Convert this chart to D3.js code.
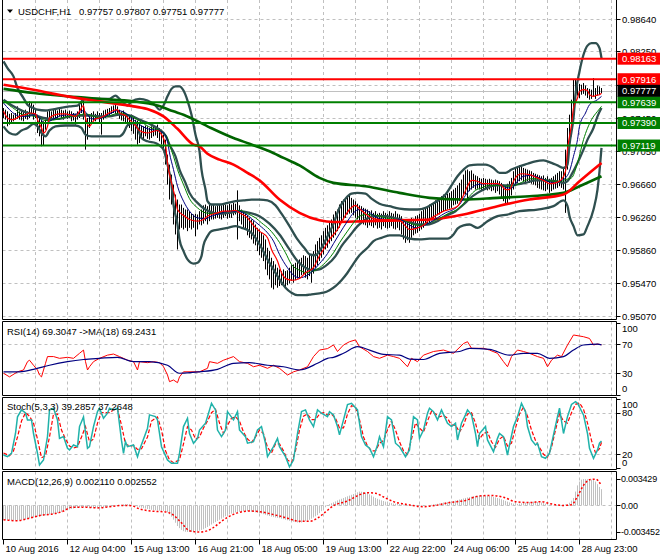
<!DOCTYPE html>
<html><head><meta charset="utf-8">
<script src="https://cdn.jsdelivr.net/npm/d3@7"></script>
<style>
html,body{margin:0;padding:0;background:#fff;}
svg{display:block;}
text{font-family:"Liberation Sans",Arial,sans-serif;font-size:9.5px;fill:#000;}
</style></head><body>
<svg id="c" width="660" height="560"></svg>
<script>
// ---------------- DATA ----------------
const symbol = "USDCHF,H1";
const ohlcLast = ["0.97757","0.97807","0.97751","0.97777"];
const priceTicks = ["0.98640","0.98250","0.97850","0.97450","0.97050","0.96660","0.96260","0.95860","0.95470","0.95070"];
const timeLabels = ["10 Aug 2016","12 Aug 04:00","15 Aug 13:00","16 Aug 21:00","18 Aug 05:00","19 Aug 13:00","22 Aug 22:00","24 Aug 06:00","25 Aug 14:00","28 Aug 23:00"];
const resistance = [0.98163, 0.97916];
const support = [0.97639, 0.97390, 0.97119];
const lastPrice = 0.97777;

// hourly bars, prices in 1e-4
const highs = [
9757,9755,9753,9750,9751,9749,9751,9759,9753,9755,
9754,9755,9753,9765,9763,9761,9757,9749,9745,9743,
9741,9743,9753,9755,9753,9756,9755,9754,9757,9755,
9754,9755,9753,9754,9753,9751,9750,9753,9761,9767,
9766,9747,9745,9749,9751,9753,9750,9753,9751,9751,
9754,9755,9756,9757,9759,9760,9761,9759,9755,9753,
9754,9751,9750,9748,9749,9745,9743,9742,9738,9736,
9735,9736,9735,9733,9735,9736,9735,9737,9733,9731,
9725,9719,9701,9689,9677,9665,9653,9647,9641,9641,
9637,9635,9635,9633,9630,9629,9630,9629,9633,9635,
9640,9641,9639,9641,9640,9641,9639,9640,9641,9640,
9642,9641,9640,9642,9641,9643,9642,9658,9640,9635,
9633,9630,9628,9625,9623,9621,9617,9613,9611,9607,
9604,9599,9589,9585,9577,9573,9569,9565,9563,9561,
9563,9561,9562,9565,9568,9569,9571,9573,9575,9577,
9580,9579,9577,9581,9580,9585,9593,9597,9601,9604,
9609,9613,9616,9621,9623,9629,9633,9635,9641,9645,
9647,9649,9651,9652,9649,9647,9645,9642,9640,9639,
9637,9636,9635,9633,9634,9631,9633,9630,9631,9630,
9633,9631,9630,9633,9631,9630,9633,9630,9629,9627,
9623,9622,9621,9623,9625,9624,9627,9628,9630,9633,
9635,9637,9639,9641,9642,9643,9646,9647,9649,9651,
9653,9652,9654,9655,9657,9659,9661,9664,9667,9671,
9677,9682,9683,9681,9682,9678,9676,9675,9673,9672,
9673,9672,9671,9672,9671,9670,9671,9670,9669,9667,
9665,9664,9666,9669,9673,9681,9685,9687,9688,9687,
9685,9684,9683,9682,9681,9679,9678,9677,9676,9675,
9676,9673,9675,9672,9673,9675,9677,9679,9681,9681,
9685,9707,9733,9749,9767,9791,9792,9789,9786,9785,
9787,9784,9781,9780,9779,9793,9781,9784,9783,9781];
const lows = [
9745,9743,9735,9737,9739,9741,9743,9744,9743,9742,
9741,9744,9743,9745,9749,9743,9745,9727,9723,9711,
9712,9731,9741,9743,9744,9745,9744,9745,9747,9745,
9743,9745,9744,9745,9741,9742,9737,9743,9745,9751,
9743,9707,9719,9733,9739,9742,9741,9744,9738,9725,
9743,9745,9747,9748,9750,9751,9750,9748,9744,9742,
9741,9739,9736,9733,9729,9726,9719,9713,9715,9721,
9719,9723,9720,9719,9721,9723,9724,9721,9717,9713,
9707,9689,9665,9647,9641,9617,9605,9587,9611,9613,
9611,9613,9609,9613,9611,9613,9603,9611,9617,9616,
9618,9621,9617,9621,9623,9623,9624,9625,9624,9623,
9625,9627,9624,9625,9625,9628,9629,9599,9621,9617,
9613,9611,9604,9601,9599,9594,9592,9585,9580,9577,
9573,9563,9556,9551,9541,9539,9544,9541,9543,9544,
9545,9540,9544,9546,9549,9547,9550,9552,9553,9556,
9557,9553,9551,9555,9547,9558,9565,9568,9573,9577,
9581,9587,9589,9594,9597,9601,9604,9609,9613,9621,
9623,9625,9629,9630,9631,9628,9625,9623,9621,9618,
9617,9616,9613,9616,9615,9613,9616,9612,9613,9611,
9615,9613,9612,9613,9615,9612,9611,9613,9610,9605,
9599,9595,9598,9595,9601,9604,9606,9607,9609,9611,
9613,9616,9618,9619,9622,9623,9625,9628,9629,9631,
9633,9634,9635,9636,9637,9640,9641,9642,9645,9647,
9652,9653,9647,9657,9659,9661,9659,9660,9659,9658,
9657,9659,9658,9659,9657,9658,9655,9657,9653,9649,
9645,9641,9642,9647,9652,9659,9664,9667,9669,9670,
9669,9667,9669,9667,9666,9665,9664,9661,9660,9659,
9658,9657,9659,9655,9657,9659,9660,9661,9663,9661,
9659,9631,9683,9709,9723,9749,9765,9772,9769,9773,
9774,9772,9769,9767,9768,9771,9768,9772,9773,9775];

// indicator lines: [bar, price*1e4]
const ma100 = [[0,9785],[15,9779],[32,9771],[48,9765],[65,9759],[73,9755],[80,9747],[87,9732],[95,9713],[98,9711],[102,9702],[108,9695],[115,9689],[122,9679],[128,9670],[138,9647],[148,9631],[158,9622],[165,9620],[181,9621],[198,9622],[213,9623],[230,9629],[247,9639],[263,9647],[280,9653],[288,9669],[299,9691]];
const ma200 = [[0,9780],[15,9775],[32,9771],[48,9768],[65,9765],[77,9760],[85,9753],[90,9749],[102,9735],[115,9721],[123,9714],[133,9705],[140,9697],[148,9688],[158,9673],[165,9667],[181,9663],[198,9655],[213,9649],[230,9647],[247,9649],[263,9651],[280,9655],[288,9663],[299,9675]];
const bbUpper = [[0,9813],[2,9805],[5,9795],[7,9781],[10,9769],[12,9761],[15,9757],[17,9755],[21,9754],[24,9755],[28,9757],[33,9759],[37,9760],[40,9767],[43,9768],[48,9768],[53,9768],[56,9772],[58,9768],[62,9760],[64,9765],[68,9768],[72,9766],[76,9760],[78,9755],[80,9760],[82,9771],[84,9780],[86,9783],[88,9783],[90,9778],[92,9766],[94,9749],[96,9725],[98,9705],[99,9683],[101,9659],[102,9645],[104,9641],[108,9641],[112,9643],[116,9645],[120,9646],[124,9647],[128,9647],[132,9646],[136,9640],[139,9630],[143,9615],[147,9599],[151,9587],[153,9581],[156,9580],[158,9585],[161,9598],[165,9618],[168,9637],[171,9648],[174,9654],[177,9655],[181,9654],[184,9648],[188,9642],[193,9639],[198,9636],[203,9635],[207,9635],[211,9637],[214,9641],[218,9647],[221,9653],[224,9664],[227,9675],[230,9683],[233,9688],[237,9689],[241,9689],[245,9685],[248,9679],[251,9679],[254,9683],[258,9687],[262,9690],[266,9693],[270,9694],[274,9691],[277,9688],[280,9685],[282,9689],[283,9713],[285,9745],[286,9773],[288,9801],[290,9821],[292,9832],[294,9835],[296,9835],[298,9829],[299,9817]];
const bbMiddle = [[0,9767],[5,9759],[10,9753],[15,9749],[20,9745],[23,9744],[28,9744],[33,9747],[38,9748],[43,9748],[48,9747],[53,9747],[58,9749],[63,9748],[68,9743],[73,9738],[78,9731],[81,9724],[83,9713],[86,9699],[88,9683],[91,9667],[93,9655],[97,9643],[101,9635],[105,9631],[108,9630],[113,9631],[118,9633],[123,9631],[128,9627],[133,9618],[138,9605],[143,9587],[147,9573],[151,9565],[154,9562],[158,9563],[162,9569],[166,9579],[169,9591],[173,9603],[177,9615],[181,9623],[185,9627],[191,9627],[197,9624],[202,9621],[207,9617],[212,9617],[217,9621],[221,9627],[226,9633],[230,9641],[233,9648],[237,9655],[241,9660],[246,9664],[251,9664],[256,9665],[261,9667],[266,9670],[271,9670],[276,9669],[280,9667],[282,9669],[284,9677],[287,9691],[290,9707],[292,9719],[295,9733],[297,9747],[299,9757]];
const bbLower = [[0,9735],[3,9727],[6,9725],[9,9730],[12,9733],[15,9738],[17,9735],[19,9727],[21,9723],[23,9730],[26,9735],[31,9736],[36,9736],[39,9733],[41,9725],[44,9723],[48,9723],[53,9723],[58,9723],[60,9727],[62,9736],[65,9739],[67,9733],[69,9721],[72,9717],[76,9715],[78,9712],[80,9707],[82,9689],[84,9665],[85,9641],[87,9617],[88,9599],[90,9585],[92,9575],[95,9570],[97,9571],[99,9579],[100,9592],[102,9603],[104,9609],[108,9611],[112,9613],[116,9615],[119,9613],[123,9609],[126,9601],[129,9589],[132,9575],[135,9563],[138,9551],[141,9541],[144,9535],[147,9532],[151,9532],[154,9533],[157,9534],[160,9535],[163,9538],[166,9543],[169,9550],[172,9559],[175,9570],[178,9580],[182,9589],[185,9597],[189,9601],[193,9604],[198,9604],[203,9600],[208,9599],[213,9600],[218,9600],[222,9600],[225,9605],[227,9612],[230,9616],[233,9617],[237,9613],[242,9621],[247,9627],[252,9629],[258,9633],[267,9635],[275,9639],[280,9646],[282,9639],[283,9627],[285,9615],[287,9604],[290,9605],[292,9615],[295,9635],[297,9659],[298,9681],[299,9709]];
const maFast = [[0,9753],[2,9745],[4,9743],[6,9744],[8,9747],[11,9749],[13,9751],[16,9750],[17,9743],[19,9733],[20,9727],[22,9735],[23,9745],[26,9749],[28,9750],[31,9750],[33,9749],[36,9747],[38,9753],[40,9760],[41,9745],[43,9735],[44,9738],[46,9744],[48,9745],[50,9747],[52,9750],[55,9754],[57,9755],[58,9751],[61,9748],[63,9743],[66,9736],[68,9730],[72,9727],[75,9729],[77,9730],[79,9725],[81,9713],[82,9691],[84,9667],[86,9648],[87,9635],[90,9628],[93,9623],[97,9621],[100,9623],[102,9627],[104,9629],[107,9631],[110,9633],[113,9633],[116,9634],[118,9631],[122,9625],[125,9616],[128,9609],[132,9601],[134,9587],[137,9573],[139,9559],[142,9551],[145,9550],[148,9552],[151,9559],[155,9565],[157,9575],[160,9587],[163,9599],[167,9611],[170,9624],[173,9635],[176,9640],[178,9636],[182,9628],[185,9624],[188,9623],[192,9623],[195,9623],[198,9622],[201,9615],[203,9611],[206,9612],[210,9616],[213,9623],[217,9629],[220,9633],[223,9635],[227,9639],[229,9647],[232,9663],[234,9670],[237,9669],[240,9666],[243,9666],[247,9666],[249,9664],[251,9659],[253,9659],[255,9669],[257,9676],[259,9678],[263,9677],[267,9673],[270,9670],[273,9666],[276,9667],[279,9671],[281,9681],[282,9707],[284,9737],[285,9757],[287,9769],[288,9777],[290,9779],[292,9778],[293,9773],[295,9771],[296,9772],[298,9773],[299,9775]];
const maMid = [[0,9763],[3,9755],[6,9749],[8,9747],[12,9747],[16,9749],[18,9745],[21,9738],[23,9741],[26,9745],[29,9748],[33,9749],[37,9750],[40,9754],[42,9749],[44,9744],[47,9744],[51,9747],[54,9751],[57,9754],[61,9751],[64,9745],[67,9739],[71,9733],[74,9731],[77,9730],[80,9727],[82,9717],[83,9703],[85,9683],[87,9663],[90,9645],[93,9633],[97,9625],[101,9624],[104,9627],[108,9630],[113,9633],[117,9633],[121,9630],[124,9624],[128,9616],[132,9607],[135,9597],[138,9581],[142,9565],[145,9556],[148,9553],[152,9556],[155,9562],[158,9570],[162,9582],[165,9594],[168,9606],[172,9621],[175,9631],[178,9635],[182,9633],[185,9628],[188,9624],[193,9623],[198,9623],[202,9618],[206,9613],[209,9615],[213,9619],[217,9625],[221,9631],[225,9635],[228,9641],[231,9652],[234,9661],[237,9665],[241,9666],[245,9666],[248,9665],[252,9661],[254,9661],[257,9669],[260,9675],[264,9676],[268,9673],[272,9669],[276,9667],[279,9670],[281,9673],[283,9681],[285,9699],[287,9719],[288,9735],[291,9751],[293,9761],[297,9767],[299,9771]];
const maSlow = [[0,9766],[3,9760],[6,9755],[8,9751],[12,9748],[16,9747],[18,9745],[21,9742],[23,9742],[26,9743],[29,9745],[33,9747],[37,9748],[41,9750],[44,9748],[48,9745],[52,9747],[56,9750],[59,9751],[63,9748],[67,9743],[71,9737],[74,9733],[77,9731],[80,9727],[82,9721],[83,9713],[85,9699],[87,9683],[90,9665],[93,9648],[97,9637],[101,9631],[105,9630],[108,9631],[113,9633],[118,9634],[122,9630],[126,9625],[129,9619],[133,9611],[137,9599],[141,9583],[144,9569],[148,9562],[152,9559],[155,9561],[158,9565],[162,9574],[165,9583],[168,9595],[172,9609],[175,9619],[178,9627],[182,9629],[186,9628],[191,9625],[196,9623],[201,9621],[205,9617],[208,9616],[212,9618],[216,9622],[220,9627],[223,9631],[227,9635],[230,9642],[233,9651],[236,9658],[239,9661],[243,9664],[247,9664],[251,9663],[254,9663],[257,9665],[261,9670],[264,9672],[268,9672],[272,9670],[276,9669],[279,9669],[281,9671],[284,9673],[287,9691],[290,9719],[294,9743],[297,9753],[299,9759]];

// RSI(14) and its MA(18): [bar, value]
const rsiTitle = ["69.3047","69.2431"];
const rsi = [[0,30],[3,25],[7,32],[10,34.5],[12,46],[13,48],[15,41],[17,34.5],[18,27.6],[19,25],[21,43.7],[22,53],[25,53],[28,50.6],[32,52],[35,50.6],[38,57.5],[40,62],[41,46],[42,34.5],[43,39],[45,46],[48,50.6],[52,55],[55,56.5],[58,53],[62,48],[65,46],[67,34.5],[68,46],[72,44.6],[75,46],[78,44.6],[80,39],[82,27.6],[83,18.4],[85,20.7],[87,17],[88,25],[90,32],[98,32],[102,36.8],[103,46],[107,43.7],[110,48],[115,53],[118,46],[122,43.7],[125,39],[128,41],[132,36.8],[135,41],[138,36.8],[142,27.6],[145,32],[148,34.5],[152,39],[155,53],[158,62],[162,64],[165,69],[167,60],[170,69],[173,73.5],[176,76],[178,66.6],[182,60],[185,53],[188,50.6],[192,55],[195,53],[198,50.6],[202,39],[204,50.6],[207,46],[210,55],[215,60],[220,62],[225,57.5],[230,71],[232,73.5],[234,64.4],[240,64.4],[243,62],[247,57.5],[250,46],[252,39],[254,53],[257,62],[260,60],[263,57.5],[267,53],[270,50.6],[272,39],[274,48],[277,55],[279,53],[282,69],[285,82.8],[290,80.4],[293,78],[295,69],[297,70.3],[299,69.3]];
const rsiMa = [[0,32],[8,32],[15,35.4],[23,41],[32,46],[40,49],[48,50.6],[57,52],[65,46],[73,46],[82,41],[88,30],[98,32],[107,35.4],[115,43.7],[123,44.6],[132,41],[140,39],[148,34.5],[157,43.7],[162,50.6],[165,52],[170,57.5],[177,66.6],[183,62],[190,56],[198,55],[203,49.6],[210,49],[218,57.5],[228,60],[233,64.4],[243,63],[253,55],[260,57.5],[267,57.5],[273,50.6],[280,53],[285,62],[290,69],[297,70.3],[299,69.2]];
const rsiTicks = [100,70,30,0];

// Stochastic(5,3,3): [bar, value]
const stochTitle = ["39.2857","37.2648"];
const stochMain = [[0,19],[2,16.6],[4,21.5],[6,50],[7,74],[9,84],[11,79.5],[12,69.6],[14,69.6],[15,50],[17,21.5],[18,4.6],[20,11.8],[22,45.5],[23,84],[25,86.4],[27,69.6],[28,43],[30,45.5],[32,28.7],[33,26.3],[35,33.5],[37,31],[38,60],[40,74],[42,28.7],[43,31],[45,60],[47,81.5],[48,86.4],[50,72],[52,79.2],[53,86.4],[55,84],[57,86.4],[59,40],[60,21.5],[61,38.2],[62,31],[65,33.5],[67,16.6],[68,26.3],[72,57.6],[73,76.8],[76,74.3],[77,69.6],[79,31],[82,11.8],[84,7],[87,7],[88,21.5],[90,60],[92,72],[93,50],[95,36],[97,43],[98,55],[101,64.8],[102,74.3],[104,93.6],[106,84],[107,55],[109,45.5],[111,55],[112,81.5],[115,69.6],[117,81.5],[118,55],[121,45.5],[122,36],[125,38.2],[127,55],[129,60],[131,36],[132,16.6],[135,31],[137,43],[138,31],[141,16.6],[143,2],[145,11.8],[147,50],[149,81.5],[151,84],[153,69.6],[155,60],[157,84],[159,79.2],[162,74.3],[163,81.5],[165,76.8],[167,60],[168,48],[170,69.6],[172,91.8],[174,93.6],[177,84],[179,45.5],[181,33.5],[183,28.7],[185,16.6],[187,33.5],[188,45.5],[190,31],[192,74.3],[194,69.6],[196,36],[198,31],[201,16.6],[203,26.3],[205,74.3],[207,69.6],[208,43],[210,55],[212,79.2],[213,86.4],[215,81.5],[217,69.6],[219,84],[222,64.8],[224,60],[226,64.8],[227,40.7],[229,64.8],[231,76.8],[232,84],[234,76.8],[236,50],[237,31],[238,50],[241,60],[242,40.7],[245,23.8],[247,43],[248,50],[250,45.5],[252,19],[253,33.5],[255,60],[257,74.3],[259,93.6],[261,81.5],[262,60],[264,40.7],[266,33.5],[267,36],[269,16.6],[271,14.3],[273,21.5],[275,48],[277,74.3],[278,86.4],[280,50],[282,74.3],[284,91.8],[286,96],[287,93.6],[290,76.8],[292,50],[293,28.7],[295,14.3],[297,26.3],[298,36],[299,39.3]];
const stochSignal = [[0,22],[3,18],[5,25],[7,45],[9,68],[11,80],[13,75],[15,65],[17,42],[19,15],[21,18],[23,45],[25,78],[27,78],[29,55],[31,42],[33,32],[35,29],[37,31],[39,45],[41,60],[43,38],[45,42],[47,65],[49,80],[51,80],[53,80],[55,84],[57,85],[59,62],[61,35],[63,32],[65,33],[67,27],[69,28],[72,45],[74,68],[77,74],[79,55],[81,25],[83,12],[85,8],[88,12],[90,35],[92,60],[94,55],[96,42],[98,45],[100,58],[102,68],[104,80],[106,85],[108,65],[110,50],[112,62],[114,72],[116,74],[118,68],[120,52],[122,42],[124,37],[126,45],[128,55],[130,50],[132,30],[134,22],[136,35],[138,35],[140,25],[142,12],[144,8],[146,25],[148,55],[150,75],[152,78],[154,70],[156,70],[158,78],[160,80],[162,77],[164,78],[166,72],[168,58],[170,58],[172,78],[174,90],[176,88],[178,70],[180,45],[182,32],[184,25],[186,25],[188,36],[190,40],[192,55],[194,68],[196,55],[198,38],[200,25],[202,20],[204,42],[206,65],[208,58],[210,52],[212,68],[214,82],[216,78],[218,74],[220,76],[222,72],[224,62],[226,62],[228,52],[230,62],[232,78],[234,80],[236,65],[238,42],[240,50],[242,52],[244,38],[246,30],[248,42],[250,46],[252,32],[254,36],[256,58],[258,78],[260,88],[262,75],[264,55],[266,40],[268,30],[270,20],[272,16],[274,30],[276,55],[278,78],[280,68],[282,65],[284,80],[286,92],[288,94],[290,85],[292,65],[294,40],[296,22],[298,28],[299,37.3]];
const stochTicks = [100,80,20,0];

// MACD(12,26,9): main per bar (1e-5) and signal [bar, 1e-5]
const macdTitle = ["0.002110","0.002552"];
const macdMain = [
-187,-190,-192,-194,-195,-195,-196,-195,-192,-189,
-185,-180,-174,-166,-162,-158,-153,-148,-143,-138,
-134,-129,-124,-119,-115,-110,-106,-99,-92,-84,
-76,-66,-57,-52,-46,-40,-34,-29,-24,-22,
-21,-22,-25,-28,-30,-32,-32,-31,-30,-28,
-26,-24,-20,-16,-12,-8,-4,0,4,8,
12,15,16,14,8,2,-6,-14,-24,-30,
-36,-42,-47,-52,-57,-60,-63,-65,-67,-69,
-71,-73,-90,-115,-146,-185,-225,-268,-295,-318,
-335,-343,-345,-345,-345,-343,-340,-335,-328,-318,
-309,-295,-280,-264,-248,-232,-217,-202,-187,-172,
-157,-141,-126,-116,-107,-99,-92,-85,-81,-77,
-75,-73,-75,-78,-82,-85,-90,-96,-101,-106,
-114,-122,-130,-138,-146,-152,-157,-162,-166,-172,
-179,-186,-193,-200,-207,-212,-217,-222,-227,-222,
-215,-206,-197,-187,-172,-157,-141,-126,-100,-75,
-49,-24,-4,16,28,40,52,65,76,86,
96,107,118,128,138,148,158,170,179,178,
174,167,158,144,129,113,97,86,76,66,
57,49,43,36,30,24,22,19,17,14,
11,8,6,3,1,-2,-4,-6,-8,-6,
-4,-2,0,4,8,12,16,21,26,31,
37,41,45,49,53,57,63,70,76,83,
90,97,103,108,113,118,122,125,128,130,
129,127,124,121,118,111,104,96,89,79,
69,59,49,40,31,23,16,20,24,28,
32,37,40,43,46,49,47,44,40,37,
30,22,15,8,6,4,2,0,2,5,
8,12,16,35,62,97,180,260,310,335,
343,342,340,338,335,330,310,275,240,211];
const macdSignal = [[0,-187],[7,-199],[13,-166],[19,-126],[24,-114],[30,-73],[34,-24],[41,-24],[47,-32],[53,-16],[60,0],[64,-4],[68,-45],[74,-73],[81,-85],[85,-126],[89,-227],[93,-329],[98,-345],[102,-329],[106,-268],[110,-187],[117,-97],[123,-73],[129,-85],[136,-126],[142,-166],[148,-207],[153,-207],[157,-166],[161,-85],[165,-4],[172,57],[178,138],[182,166],[186,158],[191,97],[195,49],[201,16],[210,-16],[216,0],[223,37],[231,65],[237,118],[244,130],[250,106],[256,49],[263,37],[269,49],[273,24],[280,0],[284,8],[287,118],[290,260],[293,333],[296,341],[299,255]];
const macdTicks = ["0.003429","0.00","-0.003452"];

// ---------------- LAYOUT ----------------
const svg = d3.select('#c');
const L = 2.5, R = 616.5;
const pan = {
  main: {t: -2, b: 319.5},
  rsi:  {t: 321.5, b: 395.5},
  sto:  {t: 397.5, b: 469.5},
  macd: {t: 471.5, b: 539.5}
};
const nBars = highs.length;
const x = d3.scaleLinear().domain([0, nBars - 1]).range([3.5, 601.5]);
const yP = d3.scaleLinear().domain([+priceTicks[priceTicks.length-1], +priceTicks[0]]).range([316, 19]);
const yR = d3.scaleLinear().domain([0, 100]).range([395, 322.5]);
const yS = d3.scaleLinear().domain([0, 100]).range([468.2, 398.8]);
const yM = d3.scaleLinear().domain([+macdTicks[2], +macdTicks[0]]).range([532, 479]);

const GRID = '#c0c0c0';
const defs = svg.append('defs');
Object.entries(pan).forEach(([k, p]) => {
  defs.append('clipPath').attr('id', 'clip-' + k)
    .append('rect').attr('x', L).attr('y', Math.max(0, p.t)).attr('width', R - L).attr('height', p.b - Math.max(0, p.t));
});

// vertical grid in every panel
const gridBars = d3.range(16, nBars + 6, 16);
Object.entries(pan).forEach(([k, p]) => {
  svg.append('g').selectAll('line').data(gridBars).join('line')
    .attr('x1', d => x(d)).attr('x2', d => x(d))
    .attr('y1', Math.max(0, p.t)).attr('y2', p.b)
    .attr('stroke', GRID).attr('stroke-width', 1).attr('stroke-dasharray', '3,3');
});

// horizontal grids
svg.append('g').selectAll('line').data(priceTicks).join('line')
  .attr('x1', L).attr('x2', R).attr('y1', d => Math.round(yP(+d)) + 0.5).attr('y2', d => Math.round(yP(+d)) + 0.5)
  .attr('stroke', GRID).attr('stroke-dasharray', '3,3');
svg.append('g').selectAll('line').data([70, 30]).join('line')
  .attr('x1', L).attr('x2', R).attr('y1', d => Math.round(yR(d)) + 0.5).attr('y2', d => Math.round(yR(d)) + 0.5)
  .attr('stroke', GRID).attr('stroke-dasharray', '3,3');
svg.append('g').selectAll('line').data([80, 20]).join('line')
  .attr('x1', L).attr('x2', R).attr('y1', d => Math.round(yS(d)) + 0.5).attr('y2', d => Math.round(yS(d)) + 0.5)
  .attr('stroke', GRID).attr('stroke-dasharray', '3,3');
svg.append('line').attr('x1', L).attr('x2', R)
  .attr('y1', Math.round(yM(0)) + 0.5).attr('y2', Math.round(yM(0)) + 0.5)
  .attr('stroke', GRID).attr('stroke-dasharray', '3,3');

// ---------------- MAIN PANEL ----------------
const gm = svg.append('g').attr('clip-path', 'url(#clip-main)');
// current price line
gm.append('line').attr('x1', L).attr('x2', R)
  .attr('y1', Math.round(yP(lastPrice)) + 0.5).attr('y2', Math.round(yP(lastPrice)) + 0.5)
  .attr('stroke', '#c0c0c0').attr('stroke-width', 1);

// bars
gm.append('g').selectAll('line').data(highs).join('line')
  .attr('x1', (d, i) => x(i)).attr('x2', (d, i) => x(i))
  .attr('y1', d => yP(d / 1e4)).attr('y2', (d, i) => yP(lows[i] / 1e4))
  .attr('stroke', '#000').attr('stroke-width', 1);

const lineP = d3.line().x(d => x(d[0])).y(d => yP(d[1] / 1e4)).curve(d3.curveMonotoneX);
const drawP = (data, color, w) => gm.append('path').datum(data).attr('d', lineP)
  .attr('fill', 'none').attr('stroke', color).attr('stroke-width', w).attr('stroke-linejoin', 'round');

drawP(bbUpper, '#2f4f4f', 2.3);
drawP(bbLower, '#2f4f4f', 2.3);
drawP(bbMiddle, '#2f4f4f', 2.3);
drawP(ma200, '#006400', 2.6);
drawP(ma100, '#ff0000', 2.6);
drawP(maSlow, '#008000', 1);
drawP(maMid, '#000080', 1);
drawP(maFast, '#ff0000', 1.2);

// horizontal levels
gm.append('g').selectAll('line').data(resistance).join('line')
  .attr('x1', L).attr('x2', R).attr('y1', d => yP(d)).attr('y2', d => yP(d))
  .attr('stroke', '#ff0000').attr('stroke-width', 2);
gm.append('g').selectAll('line').data(support).join('line')
  .attr('x1', L).attr('x2', R).attr('y1', d => yP(d)).attr('y2', d => yP(d))
  .attr('stroke', '#008000').attr('stroke-width', 2);

// ---------------- RSI ----------------
const gr = svg.append('g').attr('clip-path', 'url(#clip-rsi)');
const lineR = d3.line().x(d => x(d[0])).y(d => yR(d[1]));
gr.append('path').datum(rsi).attr('d', lineR).attr('fill', 'none').attr('stroke', '#ff0000').attr('stroke-width', 1);
gr.append('path').datum(rsiMa).attr('d', lineR.curve(d3.curveMonotoneX)).attr('fill', 'none').attr('stroke', '#000080').attr('stroke-width', 1.2);

// ---------------- STOCH ----------------
const gs = svg.append('g').attr('clip-path', 'url(#clip-sto)');
const lineS = d3.line().x(d => x(d[0])).y(d => yS(d[1]));
gs.append('path').datum(stochSignal).attr('d', lineS).attr('fill', 'none').attr('stroke', '#ff0000').attr('stroke-width', 1.2).attr('stroke-dasharray', '4,2');
gs.append('path').datum(stochMain).attr('d', lineS).attr('fill', 'none').attr('stroke', '#20b2aa').attr('stroke-width', 1.5);

// ---------------- MACD ----------------
const gmc = svg.append('g').attr('clip-path', 'url(#clip-macd)');
gmc.append('g').selectAll('line').data(macdMain).join('line')
  .attr('x1', (d, i) => x(i)).attr('x2', (d, i) => x(i))
  .attr('y1', yM(0)).attr('y2', d => yM(d / 1e5))
  .attr('stroke', '#c0c0c0').attr('stroke-width', 1);
gmc.append('path').datum(macdSignal)
  .attr('d', d3.line().x(d => x(d[0])).y(d => yM(d[1] / 1e5)).curve(d3.curveMonotoneX))
  .attr('fill', 'none').attr('stroke', '#ff0000').attr('stroke-width', 1.5).attr('stroke-dasharray', '2,2');

// ---------------- FRAMES ----------------
Object.entries(pan).forEach(([k, p]) => {
  const f = svg.append('g').attr('stroke', '#000').attr('stroke-width', 1).attr('fill', 'none');
  f.append('line').attr('x1', L).attr('x2', L).attr('y1', Math.max(0, p.t)).attr('y2', p.b);
  f.append('line').attr('x1', R).attr('x2', R).attr('y1', Math.max(0, p.t)).attr('y2', p.b);
  f.append('line').attr('x1', L).attr('x2', R).attr('y1', p.b).attr('y2', p.b);
  if (p.t > 0) f.append('line').attr('x1', L).attr('x2', R).attr('y1', p.t).attr('y2', p.t);
});

// ---------------- AXES / TEXT ----------------
const AX = 622;
const tick = (yy) => svg.append('line').attr('x1', R).attr('x2', R + 4).attr('y1', yy).attr('y2', yy).attr('stroke', '#000');
priceTicks.forEach(s => {
  const yy = Math.round(yP(+s)) + 0.5;
  tick(yy);
  svg.append('text').attr('x', AX).attr('y', yy).attr('dy', '0.35em').text(s);
});
const clampLbl = (v, p) => Math.min(p.b - 7, Math.max(p.t + 7, v));
rsiTicks.forEach(v => {
  tick(Math.round(yR(v)) + 0.5);
  svg.append('text').attr('x', AX).attr('y', clampLbl(yR(v), pan.rsi)).attr('dy', '0.35em').text(v);
});
stochTicks.forEach(v => {
  tick(Math.round(yS(v)) + 0.5);
  svg.append('text').attr('x', AX).attr('y', clampLbl(yS(v), pan.sto)).attr('dy', '0.35em').text(v);
});
macdTicks.forEach(s => {
  tick(Math.round(yM(+s)) + 0.5);
  svg.append('text').attr('x', AX - 1).attr('y', yM(+s)).attr('dy', '0.35em')
    .style('font-size', '9px').style('letter-spacing', '-0.2px').text(s);
});

// level price boxes
const fmt = d3.format('.5f');
const box = (v, color) => {
  const yy = yP(v);
  svg.append('rect').attr('x', R + 1).attr('y', yy - 6).attr('width', 660 - R).attr('height', 12).attr('fill', color);
  svg.append('text').attr('x', AX).attr('y', yy).attr('dy', '0.35em').style('fill', '#fff').text(fmt(v));
};
resistance.forEach(v => box(v, '#ff0000'));
support.forEach(v => box(v, '#008000'));
box(lastPrice, '#000');

// time axis
timeLabels.forEach((s, j) => {
  const xx = x(j * 32);
  svg.append('line').attr('x1', xx).attr('x2', xx).attr('y1', pan.macd.b).attr('y2', pan.macd.b + 5).attr('stroke', '#000');
  svg.append('text').attr('x', xx + 2).attr('y', 552).text(s);
});

// titles
svg.append('path').attr('d', 'M7,9.5 L13,9.5 L10,13 Z').attr('fill', '#000');
svg.append('text').attr('x', 18).attr('y', 15).text(symbol);
svg.append('text').attr('x', 79).attr('y', 15).text(ohlcLast.join(' '));
svg.append('text').attr('x', 7).attr('y', 334.5).text('RSI(14) ' + rsiTitle[0] + '  ->MA(18) ' + rsiTitle[1]);
svg.append('text').attr('x', 7).attr('y', 410).text('Stoch(5,3,3) ' + stochTitle[0] + ' ' + stochTitle[1]);
svg.append('text').attr('x', 7).attr('y', 484.5).text('MACD(12,26,9) ' + macdTitle[0] + ' ' + macdTitle[1]);
</script>
</body></html>
